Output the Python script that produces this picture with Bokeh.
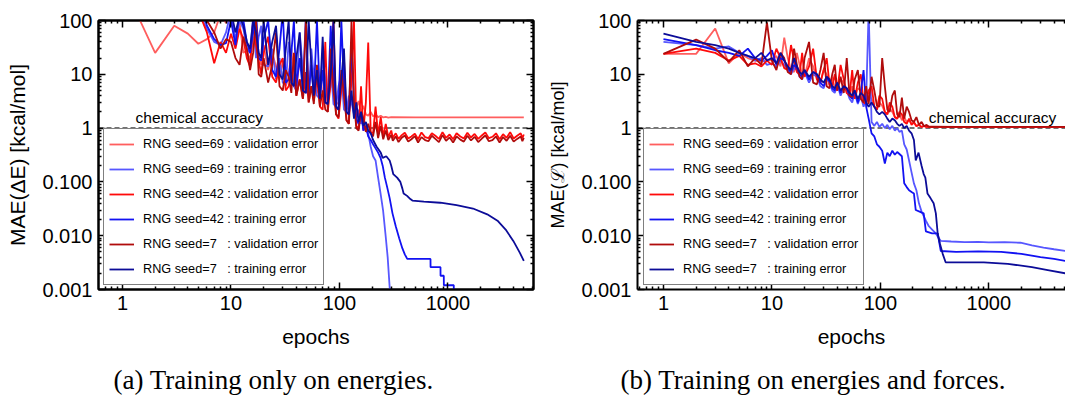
from bokeh.plotting import figure
from bokeh.layouts import row, column
from bokeh.models import Range1d, FixedTicker, LogAxis, Span, Label, Legend, LegendItem
from bokeh.embed import file_html
from bokeh.resources import INLINE

# ---------------- axes / labels ----------------
X_TICKS = [1, 10, 100, 1000]
X_TICK_LABELS = ["1", "10", "100", "1000"]
Y_TICKS = [0.001, 0.01, 0.1, 1, 10, 100]
Y_TICK_LABELS = ["0.001", "0.010", "0.100", "1", "10", "100"]
CHEMICAL_ACCURACY = 1.0
CAPTIONS = ["(a) Training only on energies.", "(b) Training on energies and forces."]

SERIES_LABELS = [
    "RNG seed=69 : validation error",
    "RNG seed=69 : training error",
    "RNG seed=42 : validation error",
    "RNG seed=42 : training error",
    "RNG seed=7\u00a0\u00a0 : validation error",
    "RNG seed=7\u00a0\u00a0 : training error",
]
SERIES_COLORS = ["#ff5e5e", "#5757ff", "#ff0a0a", "#1212f2", "#b00c0c", "#0c0c98"]

# ---------------- epochs ----------------
EPOCHS_EARLY = [1, 2, 3, 4, 5, 6, 7, 8, 9]
EPOCHS_GRID = [10, 11, 12, 13, 14, 15, 16, 17, 18, 19, 20,
               22, 24, 26, 28, 30, 32, 34, 36, 38, 40,
               43, 46, 49, 52, 55, 58,
               62, 66, 70, 74, 78,
               83, 88, 93, 98,
               104, 110, 116, 122,
               129, 136, 143, 150,
               158, 166, 175, 184, 194, 204]
EPOCHS_TAIL_A = [310, 330, 350, 375, 400, 430, 460, 495, 530, 570,
                 615, 660, 710, 765, 825, 890, 960, 1035, 1115, 1200,
                 1300, 1400, 1510, 1630, 1760, 1900, 2050, 2210, 2380, 2570,
                 2770, 2990, 3220, 3470, 3740, 4030, 4340, 4680, 4850, 5000]

# ---------------- panel (a): energies only ----------------
A_V69 = [500, 25, 80, 57, 37, 45, 60, 130, 90,
         120, 40, 90, 25, 28, 18, 45, 60, 22, 15, 35,
         12, 25, 14, 8, 18, 6, 9, 30, 7, 5,
         20, 11, 6, 4.5, 15, 9,
         5, 4, 25, 8, 3.5,
         6, 12, 3, 2.8,
         9, 5, 2.5, 2.2,
         4, 2, 2.4, 3.2,
         1.9, 2.6, 1.8, 1.7, 2.0, 1.65]
A_V69_LATE_E = [215, 227, 240, 253, 267, 282, 300, 500, 1000, 2000, 5000]
A_V69_LATE_V = [1.8, 1.6, 1.7, 1.58, 1.62, 1.57, 1.6, 1.58, 1.58, 1.58, 1.58]

A_T69 = [500, 400, 300, 200, 150, 70, 40, 35, 60,
         150, 45, 100, 70, 30, 25, 120, 20, 50, 80, 15,
         14, 30, 8, 20, 7, 6.5, 40, 15, 6, 5,
         60, 12, 5, 4, 30, 9,
         4, 3.5, 20, 8, 3,
         15, 2.8, 2.5, 6,
         10, 2.2, 2, 4,
         3, 1.8, 1.5, 2.2,
         1.2, 1.5, 0.9, 0.8, 0.45, 0.3]
A_T69_LATE_E = [215, 227, 239, 252, 265, 278, 290, 300]
A_T69_LATE_V = [0.25, 0.12, 0.061, 0.03, 0.011, 0.004, 0.0011, 0.0006]

A_V42 = [600, 500, 400, 300, 150, 60, 16, 40, 25,
         57, 30, 70, 45, 20, 14, 100, 35, 18, 10, 25,
         50, 9, 7, 15, 20, 5, 6, 10, 14, 4,
         8, 3.5, 11, 3, 6, 3.2,
         9, 2.5, 2.2, 40, 2,
         7, 100, 1.8, 1.5,
         5, 20, 1.4, 1.2,
         8, 100, 1.1, 0.95,
         6, 0.9, 3, 39, 0.85, 0.8]
A_V42_LATE_E = [215, 227, 240, 253, 267, 282, 300] + EPOCHS_TAIL_A
A_V42_LATE_V = [2.5, 0.75, 1.6, 0.7, 1.2, 0.68, 0.9,
                0.66, 0.8, 0.63, 0.74, 0.82, 0.64, 0.7, 0.79, 0.62, 0.83,
                0.68, 0.65, 0.8, 0.72, 0.63, 0.84, 0.66, 0.76, 0.62, 0.8,
                0.7, 0.64, 0.82, 0.67, 0.78, 0.63, 0.73, 0.83, 0.65, 0.69,
                0.8, 0.62, 0.77, 0.66, 0.84, 0.64, 0.72, 0.8, 0.65, 0.76]

A_T42 = [500, 400, 300, 250, 300, 80, 45, 35, 38,
         100, 35, 150, 100, 40, 25, 60, 150, 20, 18, 45,
         100, 12, 9, 30, 150, 7, 8, 25, 100, 6,
         20, 5, 120, 4.5, 15, 4,
         100, 3.5, 12, 3, 2.8,
         80, 10, 2.5, 2.2,
         100, 6, 2, 1.8,
         40, 3, 1.5, 1.2,
         2, 0.9, 1.1, 0.7, 0.6, 0.5]
A_T42_LATE_E = [215, 227, 239, 250, 262, 275, 290, 308, 330, 355, 380, 400, 421,
                690, 691, 853, 854, 915, 916, 1131, 1132]
A_T42_LATE_V = [0.42, 0.35, 0.28, 0.2, 0.12, 0.08, 0.05, 0.026, 0.015, 0.009, 0.0058, 0.0045, 0.0037,
                0.0037, 0.0026, 0.0026, 0.0018, 0.0018, 0.0012, 0.0012, 0.0008]

A_V7 = [600, 500, 400, 300, 250, 100, 60, 30, 45,
        40, 20, 15, 50, 30, 12, 25, 100, 10, 9, 20,
        7, 15, 60, 6, 5, 12, 9, 4.5, 25, 4,
        8, 3.5, 100, 3, 6, 2.8,
        15, 2.5, 5, 2.2, 2,
        30, 5, 1.8, 1.6,
        12, 4, 1.4, 1.2,
        100, 3, 1.0, 0.9,
        2, 1.5, 0.85, 1.2, 0.8, 0.7]
A_V7_LATE_E = [215, 227, 240, 253, 267, 282, 300] + EPOCHS_TAIL_A
A_V7_LATE_V = [1.3, 0.65, 1.1, 0.62, 0.9, 0.6, 0.75,
               0.58, 0.7, 0.55, 0.66, 0.73, 0.56, 0.62, 0.71, 0.54, 0.68,
               0.6, 0.57, 0.72, 0.63, 0.55, 0.74, 0.58, 0.67, 0.54, 0.7,
               0.61, 0.56, 0.72, 0.59, 0.69, 0.55, 0.64, 0.73, 0.57, 0.6,
               0.7, 0.54, 0.68, 0.58, 0.72, 0.56, 0.63, 0.7, 0.57, 0.66]

A_T7 = [600, 500, 400, 300, 300, 200, 150, 120, 100,
        150, 60, 120, 80, 40, 30, 100, 60, 25, 20, 100,
        15, 40, 80, 10, 8, 30, 100, 7, 6, 20,
        60, 5, 4.5, 100, 15, 4,
        12, 3.5, 50, 3, 2.8,
        10, 100, 2.5, 2.2,
        8, 30, 2, 1.8,
        5, 1.5, 3, 1.3,
        2, 1.1, 1.3, 0.9, 0.8, 0.6]
A_T7_LATE_E = [220, 240, 250, 270, 290, 300, 313, 340, 364, 380, 390, 420, 450, 470,
               600, 850, 1200, 1700, 2300, 2860, 3400, 4000, 4600, 5000]
A_T7_LATE_V = [0.45, 0.35, 0.28, 0.3, 0.25, 0.2, 0.14, 0.12, 0.1, 0.075, 0.061, 0.055, 0.048, 0.045,
               0.043, 0.041, 0.037, 0.032, 0.025, 0.019, 0.013, 0.008, 0.0048, 0.0034]

# ---------------- panel (b): energies and forces ----------------
B_V69 = [24, 24, 71, 16, 25, 20, 18, 17, 19,
         18, 22, 14, 48, 20, 12, 11, 25, 15, 10, 9,
         20, 14, 8, 7, 12, 10, 6, 9, 5.5, 5,
         8, 7, 4.5, 4, 6, 3.5,
         5.5, 5, 3.2, 3, 4,
         3.5, 2.5, 2.2, 3,
         2.6, 2, 1.8, 2.3,
         2, 1.6, 1.5, 1.8,
         1.4, 1.6, 1.3, 1.4, 1.2, 1.25]
B_V69_LATE_E = [215, 227, 240, 253, 267, 282, 300, 500, 1000, 2000, 5100]
B_V69_LATE_V = [1.1, 1.15, 1.05, 1.1, 1.04, 1.05, 1.04, 1.04, 1.04, 1.04, 1.04]

B_T69 = [40, 35, 30, 33, 25, 22, 18, 20, 15,
         16, 14, 18, 15, 12, 10, 13, 12, 9, 8, 11,
         7, 10, 9, 6, 5.5, 8, 7, 5, 4.5, 6.5,
         4, 5.5, 5, 3.5, 3, 4.5,
         2.8, 4, 2.5, 3.5, 150,
         1.3, 1.1, 1.3, 1.05,
         1.2, 1.0, 1.15, 0.95,
         1.1, 0.9, 1.0, 0.85,
         0.9, 0.5, 0.4, 0.25, 0.15, 0.094]
B_T69_LATE_E = [215, 227, 240, 263, 280, 300, 325, 345, 361, 450,
                600, 800, 1000, 1400, 1960, 2500, 3200, 4000, 5100]
B_T69_LATE_V = [0.07, 0.04, 0.028, 0.019, 0.015, 0.013, 0.011, 0.009, 0.008, 0.0078,
                0.0076, 0.0077, 0.0075, 0.0076, 0.0074, 0.0066, 0.006, 0.0056, 0.0052]

B_V42 = [24, 30, 25, 18, 22, 15, 16, 14, 18,
         15, 30, 20, 13, 12, 35, 18, 11, 10, 25, 9,
         14, 30, 8, 7, 12, 20, 6.5, 6, 10, 5,
         15, 8, 4.5, 4, 12, 3.5,
         7, 10, 3, 2.8, 5,
         6, 2.5, 2.2, 4,
         3.5, 2, 1.8, 3,
         2.5, 1.6, 1.5, 2,
         1.8, 1.3, 1.2, 1.5, 1.15, 1.3]
B_V42_LATE_E = [215, 227, 240, 253, 267, 282, 300, 500, 1000, 2000, 5100]
B_V42_LATE_V = [1.08, 1.15, 1.05, 1.1, 1.05, 1.06, 1.05, 1.05, 1.05, 1.05, 1.05]

B_T42 = [45, 35, 28, 25, 22, 30, 20, 18, 22,
         28, 15, 20, 18, 13, 11, 15, 13, 10, 9, 12,
         8, 11, 10, 7, 6, 8.5, 7.5, 5.5, 5, 7,
         4.5, 6, 5.5, 4, 3.5, 5,
         3, 4.5, 12, 2.5, 1.5,
         0.8, 0.7, 0.5, 0.45,
         0.38, 0.22, 0.35, 0.3,
         0.38, 0.32, 0.36, 0.33,
         0.3, 0.094, 0.08, 0.07, 0.065, 0.061]
B_T42_LATE_E = [212, 230, 251, 263, 300, 338, 361, 500, 800, 1300, 2000, 3000, 4000, 5100]
B_T42_LATE_V = [0.03, 0.028, 0.026, 0.012, 0.011, 0.011, 0.0052, 0.005, 0.0051, 0.005,
                0.0046, 0.004, 0.0037, 0.0034]

B_V7 = [24, 44, 30, 17, 28, 14, 20, 15, 92,
        18, 12, 25, 20, 11, 10, 30, 15, 9, 8, 20,
        40, 7, 6.5, 12, 25, 6, 5.5, 10, 15, 5,
        9, 4.5, 20, 4, 3.8, 8,
        12, 3.5, 3, 6, 2.8,
        9, 5, 2.6, 2.5,
        20, 6, 2.2, 2,
        4, 5, 1.8, 1.6,
        3.7, 1.5, 2.5, 2, 1.4, 1.3]
B_V7_LATE_E = [215, 227, 240, 253, 267, 282, 300, 500, 1000, 2000, 5100]
B_V7_LATE_V = [1.6, 1.15, 1.3, 1.08, 1.15, 1.05, 1.06, 1.05, 1.05, 1.05, 1.05]

B_T7 = [57, 40, 35, 30, 25, 22, 20, 25, 18,
        20, 16, 25, 18, 14, 12, 20, 14, 11, 10, 12,
        9, 11, 10, 8, 7, 9, 8, 6, 5.5, 7,
        5, 6, 5.5, 4.5, 4, 5,
        3.5, 4.5, 4, 3, 2.5,
        3, 2.5, 2, 1.8,
        2, 1.8, 1.5, 1.3,
        1.5, 1.4, 1.2, 1.1,
        1.2, 1.0, 1.1, 0.9, 0.8, 0.6]
B_T7_LATE_E = [212, 225, 240, 251, 260, 272, 290, 310, 325, 338, 355, 376, 400,
               600, 900, 1500, 2500, 3500, 5100]
B_T7_LATE_V = [0.25, 0.35, 0.2, 0.14, 0.12, 0.061, 0.05, 0.04, 0.026, 0.011, 0.007, 0.0046, 0.0032,
               0.0032, 0.0032, 0.003, 0.0026, 0.0023, 0.002]


def series(main, late_e, late_v):
    xs = EPOCHS_EARLY + EPOCHS_GRID + late_e
    ys = main + late_v
    if len(xs) != len(ys):
        raise ValueError("length mismatch %d %d" % (len(xs), len(ys)))
    return xs, ys


PANEL_A = [series(A_V69, A_V69_LATE_E, A_V69_LATE_V),
           series(A_T69, A_T69_LATE_E, A_T69_LATE_V),
           series(A_V42, A_V42_LATE_E, A_V42_LATE_V),
           series(A_T42, A_T42_LATE_E, A_T42_LATE_V),
           series(A_V7, A_V7_LATE_E, A_V7_LATE_V),
           series(A_T7, A_T7_LATE_E, A_T7_LATE_V)]
PANEL_B = [series(B_V69, B_V69_LATE_E, B_V69_LATE_V),
           series(B_T69, B_T69_LATE_E, B_T69_LATE_V),
           series(B_V42, B_V42_LATE_E, B_V42_LATE_V),
           series(B_T42, B_T42_LATE_E, B_T42_LATE_V),
           series(B_V7, B_V7_LATE_E, B_V7_LATE_V),
           series(B_T7, B_T7_LATE_E, B_T7_LATE_V)]

SANS = "Liberation Sans"
SERIF = "Liberation Serif"

X_MINOR = [m * 10.0 ** e for e in range(-1, 4) for m in range(2, 10)]
Y_MINOR = [m * 10.0 ** e for e in range(-3, 2) for m in range(2, 10)]

PANEL_H = 360
CAPTION_H = 35


def style_axis(ax, ticks, minor, labels, show_labels=True):
    ax.ticker = FixedTicker(ticks=ticks, minor_ticks=minor)
    ax.axis_line_width = 2
    ax.axis_line_color = "black"
    ax.major_tick_in = 7
    ax.major_tick_out = 0
    ax.minor_tick_in = 3
    ax.minor_tick_out = 0
    ax.major_tick_line_width = 1.5
    ax.minor_tick_line_width = 1.5
    ax.major_tick_line_color = "black"
    ax.minor_tick_line_color = "black"
    ax.major_label_text_font = SANS
    if show_labels:
        ax.major_label_overrides = {t: l for t, l in zip(ticks, labels)}
        ax.major_label_text_font_size = "20px"
        ax.major_label_text_color = "black"
        ax.major_label_standoff = 6
    else:
        ax.major_label_text_font_size = "1px"
        ax.major_label_text_color = None
        ax.major_label_standoff = 0


def make_panel(width, border_left, border_right, x_lo, x_hi, data, ylabel, ylabel_size,
               chem_x, legend_x, right_axis):
    p = figure(width=width, height=PANEL_H, x_axis_type="log", y_axis_type="log",
               x_range=Range1d(x_lo, x_hi), y_range=Range1d(0.001, 100),
               output_backend="svg", toolbar_location=None,
               min_border_left=border_left, min_border_right=border_right,
               min_border_top=20, min_border_bottom=PANEL_H - 289,
               background_fill_color="white", border_fill_color="white")
    p.xgrid.visible = False
    p.ygrid.visible = False
    p.outline_line_color = "black" if right_axis else None
    p.outline_line_width = 2

    style_axis(p.xaxis[0], X_TICKS, X_MINOR, X_TICK_LABELS)
    style_axis(p.yaxis[0], Y_TICKS, Y_MINOR, Y_TICK_LABELS)
    p.xaxis[0].axis_label = "epochs"
    p.xaxis[0].axis_label_text_font = SANS
    p.xaxis[0].axis_label_text_font_size = "21px"
    p.xaxis[0].axis_label_text_font_style = "normal"
    p.xaxis[0].axis_label_text_color = "black"
    p.xaxis[0].axis_label_standoff = 12
    p.yaxis[0].axis_label = ylabel
    p.yaxis[0].axis_label_text_font = SANS
    p.yaxis[0].axis_label_text_font_size = ylabel_size
    p.yaxis[0].axis_label_text_font_style = "normal"
    p.yaxis[0].axis_label_text_color = "black"
    p.yaxis[0].axis_label_standoff = 10

    top = LogAxis()
    style_axis(top, X_TICKS, X_MINOR, X_TICK_LABELS, show_labels=False)
    p.add_layout(top, "above")
    if right_axis:
        right = LogAxis()
        style_axis(right, Y_TICKS, Y_MINOR, Y_TICK_LABELS, show_labels=False)
        p.add_layout(right, "right")

    p.add_layout(Span(location=CHEMICAL_ACCURACY, dimension="width", line_color="#444444",
                      line_dash="5 3", line_width=1.5, level="underlay"))

    items = []
    for (xs, ys), lab, col in zip(data, SERIES_LABELS, SERIES_COLORS):
        r = p.line(xs, ys, line_color=col, line_width=1.8)
        items.append(LegendItem(label=lab, renderers=[r]))

    p.add_layout(Label(x=chem_x, y=1.6, text="chemical accuracy", text_font=SANS,
                       text_font_size="15.5px", text_baseline="alphabetic", text_color="black"))

    legend = Legend(items=items, location=(legend_x, 4))
    legend.label_text_font = SANS
    legend.label_text_font_size = "12.7px"
    legend.label_text_color = "black"
    legend.glyph_width = 25
    legend.glyph_height = 20
    legend.label_height = 20
    legend.label_standoff = 9
    legend.spacing = 5
    legend.padding = 5
    legend.margin = 0
    legend.border_line_color = "black"
    legend.border_line_width = 1.5
    legend.background_fill_color = "white"
    legend.background_fill_alpha = 1.0
    p.add_layout(legend)
    return p


pa = make_panel(545, 98, 12, 0.601, 6140, PANEL_A, "MAE(\u0394E) [kcal/mol]", "21px",
                1.32, 5, True)
pb = make_panel(520, 91, 0, 0.576, 5100, PANEL_B, "MAE(\u2112) [kcal/mol]", "18px",
                280, 6, False)

# caption strip (pixel-unit ranges), captions placed under each sub-figure
cap = figure(width=1065, height=CAPTION_H, x_range=Range1d(0, 1065), y_range=Range1d(0, CAPTION_H),
             output_backend="svg", toolbar_location=None, min_border=0,
             x_axis_location=None, y_axis_location=None,
             background_fill_color="white", border_fill_color="white")
cap.outline_line_color = None
cap.xgrid.visible = False
cap.ygrid.visible = False
for cx, text in zip([113, 620], CAPTIONS):
    cap.add_layout(Label(x=cx, y=16, text=text, text_font=SERIF, text_font_size="27px",
                         text_baseline="alphabetic", text_color="black"))

layout = column(row(pa, pb), cap)
open("out.html", "w").write(file_html(layout, INLINE))
